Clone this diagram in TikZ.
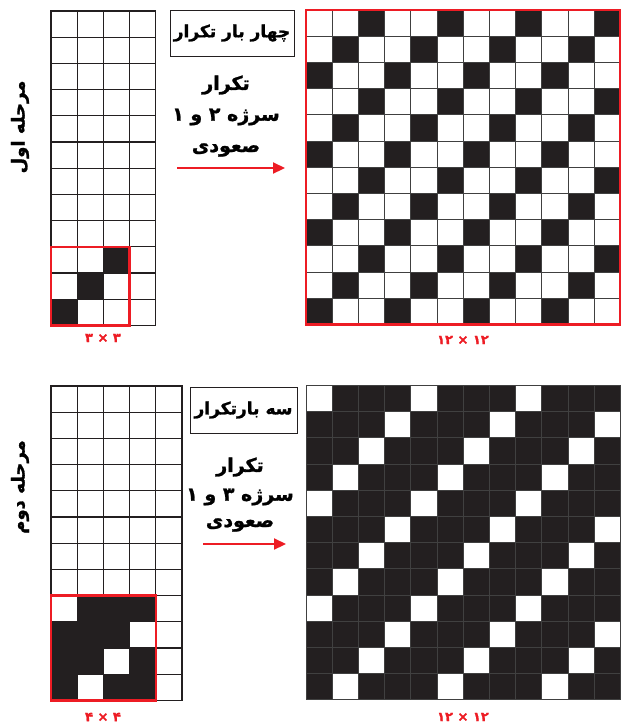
\documentclass[tikz,border=0pt]{standalone}
\usepackage{fontspec}
\usetikzlibrary{arrows.meta,positioning}
\TeXXeTstate=1
\newfontfamily\farsifont[Script=Arabic, BoldFeatures={FakeBold=1.3}]{DejaVu Sans}
\definecolor{redline}{HTML}{ED1C24}
\definecolor{inkblack}{HTML}{231F20}
\tikzset{
  cellgrid/.style={draw=inkblack, line width=1.3pt},
  biggrid/.style={draw=black!75, line width=0.9pt},
  blackcell/.style={fill=inkblack},
  redframe/.style={draw=redline, line width=2.6pt},
  repbox/.style={draw=inkblack, line width=1pt, minimum width=124pt, minimum height=46pt,
    font=\farsifont\bfseries\fontsize{17}{20}\selectfont},
  steptext/.style={font=\farsifont\bfseries\fontsize{19}{23}\selectfont},
  sizelabel/.style={text=redline, font=\farsifont\bfseries\fontsize{13}{15}\selectfont},
  stagelabel/.style={rotate=90, font=\farsifont\bfseries\fontsize{18}{21}\selectfont},
  redarrow/.style={draw=redline, line width=2.2pt, -{Triangle[length=12pt,width=11pt]}},
}

\begin{document}
\begin{tikzpicture}[x=1pt,y=-1pt]
    \useasboundingbox (0,0) rectangle (621,724);
    \def\s{26.2}

    % Stage one: small grid with the 3x3 unit
    \foreach \t in {9,10,11} {
        \foreach \c in {0,1,2} {
            \pgfmathtruncatemacro{\k}{mod(\c+\t,3)}
            \ifnum\k=2 \fill[blackcell] (51+\c*\s,11+\t*\s) rectangle ++(\s,\s); \fi
        }
    }
    \foreach \t in {0,...,11} {
        \foreach \c in {0,...,3} {
            \draw[cellgrid] (51+\c*\s,11+\t*\s) rectangle ++(\s,\s);
        }
    }
    \draw[redframe] (51,11+9*\s) rectangle ++(3*\s,3*\s);

    % Stage one: 12x12 result
    \foreach \t in {0,...,11} {
        \foreach \c in {0,...,11} {
            \pgfmathtruncatemacro{\k}{mod(\c+\t,3)}
            \ifnum\k=2 \fill[blackcell] (306+\c*\s,10+\t*\s) rectangle ++(\s,\s); \fi
            \draw[biggrid] (306+\c*\s,10+\t*\s) rectangle ++(\s,\s);
        }
    }
    \draw[redframe] (306,10) rectangle ++(12*\s,12*\s);

    % Stage two: small grid with the 4x4 unit
    \foreach \t in {8,...,11} {
        \foreach \c in {0,...,3} {
            \pgfmathtruncatemacro{\k}{mod(\c+\t,4)}
            \ifnum\k>0 \fill[blackcell] (51+\c*\s,386+\t*\s) rectangle ++(\s,\s); \fi
        }
    }
    \foreach \t in {0,...,11} {
        \foreach \c in {0,...,4} {
            \draw[cellgrid] (51+\c*\s,386+\t*\s) rectangle ++(\s,\s);
        }
    }
    \draw[redframe] (51,386+8*\s) rectangle ++(4*\s,4*\s);

    % Stage two: 12x12 result
    \foreach \t in {0,...,11} {
        \foreach \c in {0,...,11} {
            \pgfmathtruncatemacro{\k}{mod(\c+\t,4)}
            \ifnum\k>0 \fill[blackcell] (306+\c*\s,385.5+\t*\s) rectangle ++(\s,\s); \fi
            \draw[biggrid] (306+\c*\s,385.5+\t*\s) rectangle ++(\s,\s);
        }
    }

    % Stage labels
    \node[stagelabel] (stage1) at (20,127) {\beginR مرحله اول\endR};
    \node[stagelabel] (stage2) at (20,487) {\beginR مرحله دوم\endR};

    % Repeat boxes and steps
    \node[repbox] (box1) at (232,33) {\beginR چهار بار تکرار\endR};
    \node[steptext] (rep1a) at (226,85) {\beginR تکرار\endR};
    \node[steptext] (rep1b) at (226,117) {\beginR سرژه ۲ و ۱\endR};
    \node[steptext] (rep1c) at (226,150) {\beginR صعودی\endR};

    \node[repbox, minimum width=107pt] (box2) at (243.5,410) {\beginR سه بارتکرار\endR};
    \node[steptext] (rep2a) at (240,467) {\beginR تکرار\endR};
    \node[steptext] (rep2b) at (240,497) {\beginR سرژه ۳ و ۱\endR};
    \node[steptext] (rep2c) at (240,525) {\beginR صعودی\endR};

    % Arrows
    \coordinate (arr1s) at (177,168);
    \coordinate (arr1e) at (285,168);
    \coordinate (arr2s) at (203,544);
    \coordinate (arr2e) at (286,544);
    \draw[redarrow] (arr1s) -- (arr1e);
    \draw[redarrow] (arr2s) -- (arr2e);

    % Sizes
    \node[sizelabel] (size1) at (103,338) {\beginR ۳ × ۳\endR};
    \node[sizelabel] (size2) at (463,340) {\beginR ۱۲ × ۱۲\endR};
    \node[sizelabel] (size3) at (103,717) {\beginR ۴ × ۴\endR};
    \node[sizelabel] (size4) at (463,717) {\beginR ۱۲ × ۱۲\endR};
\end{tikzpicture}
\end{document}
